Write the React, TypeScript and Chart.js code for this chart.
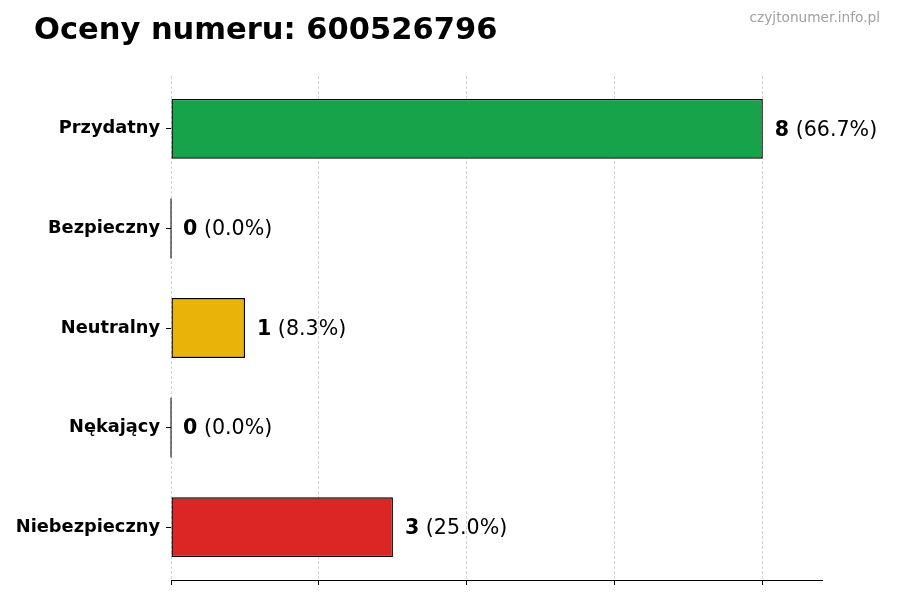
import { useEffect, useRef } from "react";
import { Chart, registerables } from "chart.js";

Chart.register(...registerables);

const categories = ["Przydatny", "Bezpieczny", "Neutralny", "Nękający", "Niebezpieczny"];
const counts = [8, 0, 1, 0, 3];
const barColors = ["#16a34a", "#6b7280", "#eab308", "#f97316", "#dc2626"];
const xTicks = [0, 2, 4, 6, 8];

const titleText = "Oceny numeru: 600526796";
const watermark = "czyjtonumer.info.pl";

const FONT = "'DejaVu Sans', sans-serif";

const total = counts.reduce((a, b) => a + b, 0);

const labelsPlugin = {
    id: "valueLabels",
    afterDatasetsDraw(chart: Chart) {
        const ctx = chart.ctx;
        const meta = chart.getDatasetMeta(0);
        const base = chart.scales.x.getPixelForValue(0);
        ctx.save();
        ctx.textBaseline = "middle";
        ctx.textAlign = "left";
        ctx.fillStyle = "#000";
        meta.data.forEach((bar: any, i: number) => {
            const v = counts[i];
            // zero-width bars still show their edge as a thin line
            if (v === 0) {
                ctx.strokeStyle = "#000";
                ctx.lineWidth = 1;
                ctx.beginPath();
                ctx.moveTo(base, bar.y - bar.height / 2);
                ctx.lineTo(base, bar.y + bar.height / 2);
                ctx.stroke();
            }
            const x = Math.max(bar.x, base) + 12;
            const y = bar.y + 1.5;
            const pct = total ? ((v / total) * 100).toFixed(1) : "0.0";
            ctx.font = `bold 20.6px ${FONT}`;
            const num = String(v);
            ctx.fillText(num, x, y);
            const w = ctx.measureText(num).width;
            ctx.font = `20.6px ${FONT}`;
            ctx.fillText(` (${pct}%)`, x + w, y);
        });
        ctx.restore();
    },
    afterDraw(chart: Chart) {
        const ctx = chart.ctx;
        ctx.save();
        ctx.textBaseline = "middle";
        ctx.fillStyle = "#000";
        ctx.textAlign = "left";
        ctx.font = `bold 30.5px ${FONT}`;
        ctx.fillText(titleText, 34, 31);
        ctx.fillStyle = "#a0a0a0";
        ctx.textAlign = "right";
        ctx.font = `13.7px ${FONT}`;
        ctx.fillText(watermark, 880, 18);
        ctx.restore();
    },
};

const App = () => {
    const chartRef = useRef<HTMLCanvasElement | null>(null);
    const chartInstanceRef = useRef<Chart | null>(null);

    useEffect(() => {
        if (!chartRef.current) return;
        const ctx = chartRef.current.getContext("2d");
        if (!ctx) return;
        if (chartInstanceRef.current) chartInstanceRef.current.destroy();

        const points = counts.map((v, i) => ({ x: v, y: i }));
        const xMax = Math.max(...counts) * 1.1;

        chartInstanceRef.current = new Chart(ctx, {
            type: "bar",
            data: {
                datasets: [
                    {
                        data: points as any,
                        backgroundColor: barColors,
                        borderColor: "#000",
                        borderWidth: 1.4,
                        borderSkipped: false,
                        barPercentage: 0.6,
                        categoryPercentage: 1,
                    },
                ],
            },
            options: {
                indexAxis: "y",
                animation: false,
                responsive: false,
                layout: { padding: { left: 0, right: 78, top: 76, bottom: 0 } },
                plugins: {
                    legend: { display: false },
                    title: { display: false },
                    tooltip: { enabled: false },
                },
                scales: {
                    x: {
                        type: "linear",
                        min: 0,
                        max: xMax,
                        z: 1,
                        afterFit: (s: any) => {
                            s.height = 20;
                        },
                        afterBuildTicks: (s: any) => {
                            s.ticks = xTicks.map((v) => ({ value: v }));
                        },
                        ticks: { display: false },
                        grid: {
                            color: "rgba(180,180,180,0.6)",
                            lineWidth: 1,
                            drawTicks: true,
                            tickLength: 5,
                            tickColor: "#000",
                            tickWidth: 1,
                        },
                        border: { display: true, color: "#000", width: 1, dash: [3, 2] },
                    },
                    y: {
                        type: "linear",
                        reverse: true,
                        offset: false,
                        min: -0.53,
                        max: categories.length - 1 + 0.53,
                        afterFit: (s: any) => {
                            s.width = 171;
                        },
                        afterBuildTicks: (s: any) => {
                            s.ticks = categories.map((_, i) => ({ value: i }));
                        },
                        ticks: {
                            padding: 6,
                            color: "#000",
                            font: { family: FONT, size: 17.8, weight: "bold" },
                            callback: (v: any) => categories[Math.round(Number(v))] ?? "",
                        },
                        grid: {
                            offset: false,
                            drawOnChartArea: false,
                            drawTicks: true,
                            tickLength: 5,
                            tickColor: "#000",
                        },
                        border: { display: false },
                    },
                },
            },
            plugins: [labelsPlugin],
        });

        return () => {
            if (chartInstanceRef.current) {
                chartInstanceRef.current.destroy();
                chartInstanceRef.current = null;
            }
        };
    }, []);

    return (
        <div style={{ position: "fixed", left: 0, top: 0, width: 900, height: 600, background: "#fff" }}>
            <canvas ref={chartRef} width={900} height={600} style={{ width: 900, height: 600 }} />
        </div>
    );
};

export default App;
